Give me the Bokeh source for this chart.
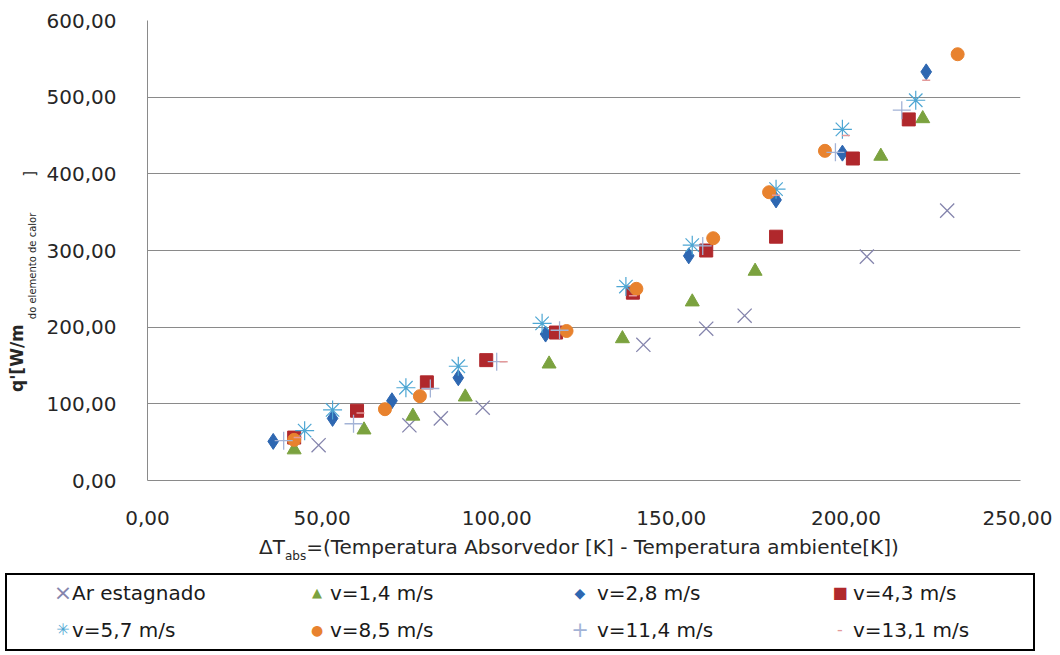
from bokeh.plotting import figure
from bokeh.models import Range1d, FixedTicker, Div
from bokeh.layouts import column, row
from bokeh.embed import file_html
from bokeh.resources import INLINE

# ---------------- data ----------------
series_names = ["Ar estagnado", "v=1,4 m/s", "v=2,8 m/s", "v=4,3 m/s",
                "v=5,7 m/s", "v=8,5 m/s", "v=11,4 m/s", "v=13,1 m/s"]

ar_x = [49, 75, 84, 96, 142, 160, 171, 206, 229]
ar_y = [46, 72, 81, 95, 177, 198, 215, 292, 352]

v14_x = [42, 62, 76, 91, 115, 136, 156, 174, 210, 222]
v14_y = [40, 66, 84, 109, 152, 185, 233, 273, 423, 472]

v28_x = [36, 53, 70, 89, 114, 155, 180, 199, 223]
v28_y = [51, 81, 104, 134, 191, 293, 366, 427, 533]

v43_x = [42, 60, 80, 97, 117, 139, 160, 180, 202, 218]
v43_y = [56, 91, 128, 157, 193, 245, 300, 318, 420, 471]

v57_x = [45, 53, 74, 89, 113, 137, 156, 180, 199, 220]
v57_y = [65, 92, 121, 149, 205, 253, 307, 380, 458, 496]

v85_x = [42, 68, 78, 120, 140, 162, 178, 194, 232]
v85_y = [53, 93, 110, 195, 250, 316, 376, 430, 556]

v114_x = [39, 59, 81, 100, 118, 159, 197, 216]
v114_y = [52, 74, 120, 155, 196, 306, 428, 483]

v131_x = [43, 61, 102, 139, 180, 200, 223]
v131_y = [56, 88, 155, 241, 372, 450, 522]

x_ticks = [0, 50, 100, 150, 200, 250]
x_tick_labels = ["0,00", "50,00", "100,00", "150,00", "200,00", "250,00"]
y_ticks = [0, 100, 200, 300, 400, 500, 600]
y_tick_labels = ["0,00", "100,00", "200,00", "300,00", "400,00", "500,00", "600,00"]

x_title_main = "=(Temperatura Absorvedor [K] - Temperatura ambiente[K])"
y_title_main = "q'[W/m"
y_title_sub = "do elemento de calor"

# ---------------- styles ----------------
FONT = "DejaVu Sans"
TXT = "#262626"
GRID = "#8a8a8a"
styles = [
    dict(marker="x", color="#8585AD", size=20, lw=1.3, fill=False, sym="×", fs=22),
    dict(marker="triangle", color="#7BA23F", size=14, lw=1, fill=True, sym="▲", fs=13),
    dict(marker="diamond", color="#2E67B1", size=16, lw=1, fill=True, sym="◆", fs=14),
    dict(marker="square", color="#B0282C", size=13, lw=1, fill=True, sym="■", fs=16),
    dict(marker="asterisk", color="#4DA6D3", size=19, lw=1.2, fill=False, sym="✳", fs=16),
    dict(marker="circle", color="#E8822E", size=13, lw=1, fill=True, sym="●", fs=14),
    dict(marker="cross", color="#A3B3D6", size=18, lw=1.3, fill=False, sym="+", fs=21),
    dict(marker="dash", color="#E39A9A", size=8, lw=1.5, fill=False, sym="-", fs=16),
]
data = [(ar_x, ar_y), (v14_x, v14_y), (v28_x, v28_y), (v43_x, v43_y),
        (v57_x, v57_y), (v85_x, v85_y), (v114_x, v114_y), (v131_x, v131_y)]

YW = 40          # width of the y-title strip
TOTAL_W = 1052
CHART_H = 528

# ---------------- main chart ----------------
p = figure(width=TOTAL_W - YW, height=CHART_H, output_backend="svg",
           toolbar_location=None,
           x_range=Range1d(0, 250), y_range=Range1d(0, 600),
           min_border_left=147 - YW, min_border_right=32, min_border_top=20,
           min_border_bottom=48)
p.outline_line_color = None
p.background_fill_color = "white"
p.border_fill_color = "white"
p.xgrid.grid_line_color = None
p.ygrid.grid_line_color = GRID
p.ygrid.grid_line_width = 1

p.xaxis.ticker = FixedTicker(ticks=x_ticks)
p.yaxis.ticker = FixedTicker(ticks=y_ticks)
p.xaxis.major_label_overrides = dict(zip(x_ticks, x_tick_labels))
p.yaxis.major_label_overrides = dict(zip(y_ticks, y_tick_labels))
for ax in (p.xaxis, p.yaxis):
    ax.axis_line_color = GRID
    ax.major_tick_line_color = None
    ax.minor_tick_line_color = None
    ax.major_label_text_font = FONT
    ax.major_label_text_font_size = "20px"
    ax.major_label_text_color = TXT
    ax.axis_label = None
p.yaxis.major_label_standoff = 25
p.xaxis.major_label_standoff = 24

for (xs, ys), st in zip(data, styles):
    p.scatter(xs, ys, marker=st["marker"], size=st["size"],
              line_color=st["color"], line_width=st["lw"],
              fill_color=st["color"] if st["fill"] else None)

# ---------------- y title (rotated HTML text with subscript) ----------------
y_html = (
    f"<div style=\"position:relative;width:{YW}px;height:{CHART_H}px;background:#fff;\">"
    "<div style=\"position:absolute;left:5px;top:392px;transform:rotate(-90deg);"
    f"transform-origin:0 0;white-space:nowrap;font-family:'{FONT}';font-size:17px;"
    f"line-height:24px;color:{TXT};\">"
    f"<span style=\"font-weight:bold;\">{y_title_main}</span>"
    "<span style=\"font-size:10px;position:relative;top:13px;margin-left:5px;\">"
    f"{y_title_sub}</span>"
    "<span style=\"font-size:15px;position:relative;top:12px;margin-left:36px;\">]</span>"
    "</div></div>")
ydiv = Div(text=y_html, width=YW, height=CHART_H, margin=0)

# ---------------- x title + legend (HTML block under the chart) ----------------
col_marker_x = [63, 317, 580, 840]
col_text_x = [72, 330, 597, 853]
row_y = [65, 102]

parts = []
parts.append(
    "<div style=\"position:absolute;left:259px;top:7px;white-space:nowrap;"
    f"font-family:'{FONT}';font-size:20px;line-height:24px;color:{TXT};\">"
    "ΔT<span style=\"font-size:12px;position:relative;top:6px;\">abs</span>"
    f"{x_title_main}</div>")
parts.append("<div style=\"position:absolute;left:5px;top:45px;width:1030px;height:78px;"
             "box-sizing:border-box;border:2px solid #000;background:#fff;\"></div>")
for i, (st, name) in enumerate(zip(styles, series_names)):
    r, c = divmod(i, 4)
    cy = row_y[r]
    parts.append(
        f"<div style=\"position:absolute;left:{col_marker_x[c]-10}px;top:{cy-12}px;"
        f"width:20px;height:24px;line-height:24px;text-align:center;"
        f"font-family:'{FONT}';font-size:{st['fs']}px;color:{st['color']};\">{st['sym']}</div>")
    parts.append(
        f"<div style=\"position:absolute;left:{col_text_x[c]}px;top:{cy-12}px;"
        f"line-height:24px;white-space:nowrap;font-family:'{FONT}';font-size:20px;"
        f"color:#1a1a1a;\">{name}</div>")

html = (f"<div style=\"position:relative;width:{TOTAL_W}px;height:124px;background:#fff;\">"
        + "".join(parts) + "</div>")
bottom = Div(text=html, width=TOTAL_W, height=124, margin=0)

layout = column(row(ydiv, p), bottom)
open("out.html", "w").write(file_html(layout, INLINE))
